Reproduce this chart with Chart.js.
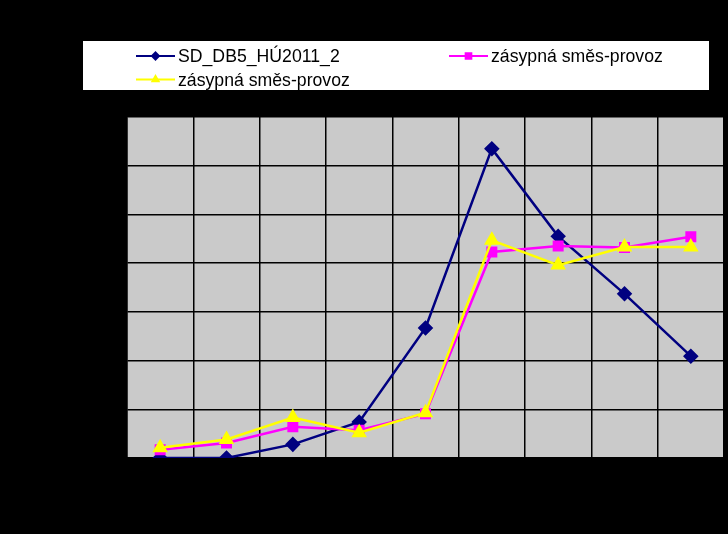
<!DOCTYPE html>
<html>
<head>
<meta charset="utf-8">
<script src="https://cdn.jsdelivr.net/npm/chart.js@4"></script>
<style>
  html, body { margin: 0; padding: 0; background: #000; }
  #wrap { width: 728px; height: 534px; }
</style>
</head>
<body>
<div id="wrap"><canvas id="graf"></canvas></div>
<script>
const ctx = document.getElementById('graf').getContext('2d');

// kategorie (popisky nejsou na obrázku čitelné - černé na černém)
const kategorie = ['1', '2', '3', '4', '5', '6', '7', '8', '9'];

// hodnoty
const sdDb5 = [0, 0, 0.28, 0.74, 2.67, 6.35, 4.55, 3.37, 2.09];
const smesProvoz = [0.17, 0.31, 0.64, 0.57, 0.91, 4.23, 4.35, 4.32, 4.54];
const smesProvoz2 = [0.21, 0.38, 0.83, 0.52, 0.93, 4.47, 3.96, 4.33, 4.33];

const nazvy = ['SD_DB5_HÚ2011_2', 'zásypná směs-provoz', 'zásypná směs-provoz'];
const yTicks = [0, 1, 2, 3, 4, 5, 6, 7];

// pozadí celé plochy + šedá plocha grafu
const pozadi = {
    id: 'pozadi',
    beforeDraw(chart) {
        const c = chart.ctx;
        const a = chart.chartArea;
        c.save();
        c.fillStyle = '#000';
        c.fillRect(0, 0, chart.width, chart.height);
        c.fillStyle = '#cacaca';
        c.fillRect(a.left, a.top, a.right - a.left, a.bottom - a.top);
        c.restore();
    }
};

// legenda ve dvou sloupcích jako v Excelu
const legenda = {
    id: 'legenda',
    afterDraw(chart) {
        const c = chart.ctx;
        c.save();
        c.fillStyle = '#fff';
        c.fillRect(83, 41, 626, 49);
        const mista = [[136, 56], [449, 56], [136, 79.5]];
        chart.data.datasets.forEach((ds, i) => {
            const [x, y] = mista[i];
            c.strokeStyle = ds.borderColor;
            c.lineWidth = 2;
            c.beginPath();
            c.moveTo(x, y);
            c.lineTo(x + 39, y);
            c.stroke();
            c.fillStyle = ds.pointBackgroundColor;
            c.strokeStyle = ds.pointBorderColor;
            Chart.helpers.drawPoint(c, {
                pointStyle: ds.pointStyle,
                radius: ds.pointStyle === 'rect' ? 4 : 3.5,
                rotation: 0,
                borderWidth: 1
            }, x + 19.5, y);
            c.save();
            c.translate(x + 42, y);
            c.scale(0.93, 1);
            c.fillStyle = '#000';
            c.font = '19px "Liberation Sans", Arial, sans-serif';
            c.textBaseline = 'middle';
            c.fillText(ds.label, 0, 1);
            c.restore();
        });
        c.restore();
    }
};

new Chart(ctx, {
    type: 'line',
    data: {
        labels: kategorie,
        datasets: [
            {
                label: nazvy[0],
                data: sdDb5,
                borderColor: '#000080',
                pointBackgroundColor: '#000080',
                pointBorderColor: '#000080',
                pointStyle: 'rectRot',
                pointRadius: 6,
                borderWidth: 2.5,
                tension: 0,
                order: 3
            },
            {
                label: nazvy[1],
                data: smesProvoz,
                borderColor: '#ff00ff',
                pointBackgroundColor: '#ff00ff',
                pointBorderColor: '#ff00ff',
                pointStyle: 'rect',
                pointRadius: 6,
                borderWidth: 2.5,
                tension: 0,
                order: 2
            },
            {
                label: nazvy[2],
                data: smesProvoz2,
                borderColor: '#ffff00',
                pointBackgroundColor: '#ffff00',
                pointBorderColor: '#ffff00',
                pointStyle: 'triangle',
                pointRadius: 6.5,
                borderWidth: 2.5,
                tension: 0,
                order: 1
            }
        ]
    },
    options: {
        responsive: true,
        maintainAspectRatio: false,
        animation: false,
        layout: { autoPadding: false, padding: { left: 0, right: 4, top: 117, bottom: 0 } },
        plugins: {
            legend: { display: false },
            tooltip: { enabled: false }
        },
        scales: {
            x: {
                offset: true,
                grid: { offset: true, color: '#000', lineWidth: 1.5, drawTicks: false },
                border: { color: '#000', width: 1.5 },
                ticks: { color: '#000', maxRotation: 0, font: { size: 13, family: 'Liberation Sans' } },
                afterFit(scale) {
                    scale.height = 76;
                    scale.paddingLeft = 0;
                    scale.paddingRight = 0;
                }
            },
            y: {
                min: 0,
                max: 7,
                afterBuildTicks(scale) { scale.ticks = yTicks.map(v => ({ value: v })); },
                grid: { color: '#000', lineWidth: 1.5, drawTicks: false },
                border: { color: '#000', width: 1.5 },
                ticks: { color: '#000', font: { size: 13, family: 'Liberation Sans' } },
                afterFit(scale) {
                    scale.width = 127;
                    scale.paddingTop = 0;
                    scale.paddingBottom = 0;
                }
            }
        }
    },
    plugins: [pozadi, legenda]
});
</script>
</body>
</html>
